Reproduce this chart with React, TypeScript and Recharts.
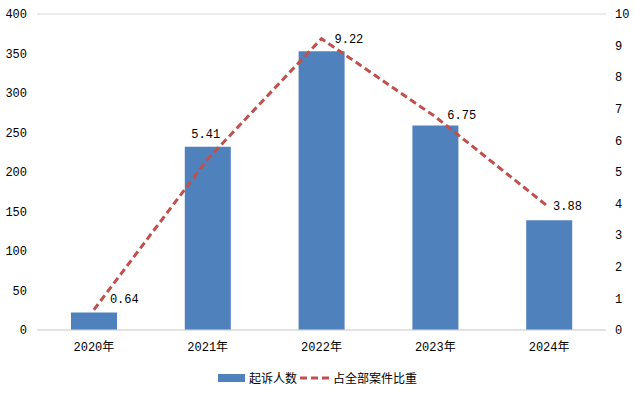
import React from "react";
import {
  ComposedChart,
  Bar,
  Line,
  XAxis,
  YAxis,
  CartesianGrid,
  Legend,
  LabelList,
} from "recharts";

const years = ["2020年", "2021年", "2022年", "2023年", "2024年"];
const prosecuted = [22, 232, 353, 259, 139];
const sharePct = [0.64, 5.41, 9.22, 6.75, 3.88];
const leftTicks = [0, 50, 100, 150, 200, 250, 300, 350, 400];
const rightTicks = [0, 1, 2, 3, 4, 5, 6, 7, 8, 9, 10];

const BAR_NAME = "起诉人数";
const LINE_NAME = "占全部案件比重";

const FONT = "'Liberation Mono', 'Noto Sans CJK SC', monospace";
const BLUE = "#4F81BD";
const RED = "#C0504D";

const data = years.map((y, i) => ({
  year: y,
  [BAR_NAME]: prosecuted[i],
  [LINE_NAME]: sharePct[i],
}));

// label placement relative to each point (as in the original workbook)
const nudge = [
  { dx: 16, dy: -10, anchor: "start" },
  { dx: -2, dy: -24, anchor: "middle" },
  { dx: 13, dy: 1, anchor: "start" },
  { dx: 12, dy: -1, anchor: "start" },
  { dx: 4, dy: 0, anchor: "start" },
];

function PointLabel(props: any) {
  const { x, y, value, index } = props;
  const n = nudge[index] || { dx: 8, dy: 0, anchor: "start" };
  return (
    <text
      x={x + n.dx}
      y={y + n.dy}
      textAnchor={n.anchor}
      dominantBaseline="central"
      fontSize={12}
      fontFamily={FONT}
      fill="#000"
    >
      {value.toFixed(2)}
    </text>
  );
}

function LegendContent() {
  return (
    <div
      style={{
        display: "flex",
        justifyContent: "center",
        alignItems: "center",
        fontFamily: FONT,
        fontSize: 12,
        color: "#000",
        height: 20,
      }}
    >
      <svg width={30} height={10}>
        <rect x={1} y={1} width={27} height={8} fill={BLUE} />
      </svg>
      <span style={{ marginLeft: 2, marginRight: 2 }}>{BAR_NAME}</span>
      <svg width={32} height={10}>
        <line x1={1} y1={5} x2={31} y2={5} stroke={RED} strokeWidth={3} strokeDasharray="7 4" />
      </svg>
      <span style={{ marginLeft: 2 }}>{LINE_NAME}</span>
    </div>
  );
}

export default function App() {
  return (
    <div style={{ position: "absolute", left: 0, top: 0, background: "#fff" }}>
      <ComposedChart
        width={634}
        height={394}
        data={data}
        margin={{ top: 14, right: 0, left: 0, bottom: 6 }}
      >
        <CartesianGrid vertical={false} stroke="#d9d9d9" />
        <XAxis
          dataKey="year"
          tickLine={false}
          axisLine={{ stroke: "#d9d9d9" }}
          tickSize={0}
          tickMargin={12}
          height={38}
          tick={{ fontSize: 12, fontFamily: FONT, fill: "#000" }}
        />
        <YAxis
          yAxisId="left"
          domain={[0, 400]}
          ticks={leftTicks}
          width={37}
          axisLine={false}
          tickLine={false}
          tickSize={0}
          tickMargin={10}
          tick={{ fontSize: 12, fontFamily: FONT, fill: "#000" }}
        />
        <YAxis
          yAxisId="right"
          orientation="right"
          domain={[0, 10]}
          ticks={rightTicks}
          width={28}
          axisLine={false}
          tickLine={false}
          tickSize={0}
          tickMargin={9}
          tick={{ fontSize: 12, fontFamily: FONT, fill: "#000" }}
        />
        <Legend verticalAlign="bottom" content={<LegendContent />} />
        <Bar
          yAxisId="left"
          dataKey={BAR_NAME}
          fill={BLUE}
          barSize={46}
          isAnimationActive={false}
        />
        <Line
          yAxisId="right"
          dataKey={LINE_NAME}
          stroke={RED}
          strokeWidth={3}
          strokeDasharray="7 4"
          dot={false}
          activeDot={false}
          type="linear"
          isAnimationActive={false}
        >
          <LabelList dataKey={LINE_NAME} content={<PointLabel />} />
        </Line>
      </ComposedChart>
    </div>
  );
}
